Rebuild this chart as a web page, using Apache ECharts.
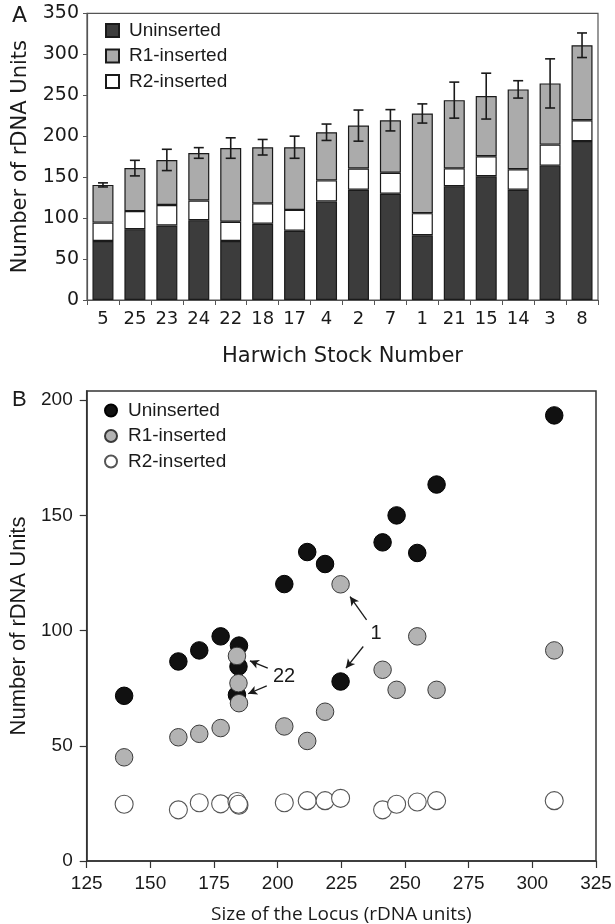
<!DOCTYPE html>
<html>
<head>
<meta charset="utf-8">
<script src="https://cdn.jsdelivr.net/npm/echarts@6/dist/echarts.min.js"></script>
<style>
html,body{margin:0;padding:0;background:#fff;}
#chart{width:615px;height:924px;}
</style>
</head>
<body>
<div id="chart"></div>
<script>
// ---------- Panel A data ----------
const stocks = ['5','25','23','24','22','18','17','4','2','7','1','21','15','14','3','8'];
const aUninserted = [72, 86.5, 91, 97.5, 72, 93, 84.5, 120.4, 134.6, 129.7, 79, 139, 151, 134.6, 164, 194];
const aR2 = [22.5, 22, 25, 24, 23.5, 25, 25.5, 25.6, 26, 25.7, 27, 21.7, 24.4, 25, 25.7, 25.5];
const aR1 = [46, 52.5, 55, 58, 90, 68.5, 76.5, 58.8, 52.3, 64, 121.7, 83.3, 73.5, 97.5, 74.7, 91.5];
const aErr = [2.5, 9.5, 13, 6.5, 12.5, 9.5, 13.5, 10, 19, 13, 11.7, 22, 28, 10.6, 30, 15];
const aYTicks = [0, 50, 100, 150, 200, 250, 300, 350];

// ---------- Panel B data ----------
const locusSize = [139.7, 161, 169.2, 177.6, 184, 184.8, 184.6, 202.6, 211.6, 218.6, 224.7, 241.2, 246.7, 254.8, 262.4, 308.6];
const bUninserted = [71.7, 86.6, 91.4, 97.5, 72.1, 93.5, 84.4, 120.2, 134.1, 128.9, 77.9, 138.3, 150, 133.7, 163.4, 193.4];
const bR1 = [45, 53.7, 55.2, 57.7, 89, 68.5, 77.2, 58.4, 52.1, 64.8, 120.1, 83, 74.3, 97.5, 74.3, 91.4];
const bR2 = [24.6, 22.2, 25.3, 24.8, 25.8, 24.2, 24.6, 25.3, 26.2, 26.2, 27.2, 22.2, 24.6, 25.6, 26.2, 26.2];
const bXTicks = [125, 150, 175, 200, 225, 250, 275, 300, 325];
const bYTicks = [0, 50, 100, 150, 200];
// annotation labels and arrows (data units)
const annoLabels = [{text: '22', x: 202.5, y: 80}, {text: '1', x: 238.6, y: 98.6}];
const annoArrows = [
  [[196.1, 83.7], [189.1, 86.9]],
  [[195.7, 76.0], [188.4, 72.6]],
  [[234.9, 104.7], [228.4, 114.8]],
  [[233.6, 93.1], [226.8, 83.7]]
];

const aTotals = stocks.map((s, i) => aUninserted[i] + aR2[i] + aR1[i]);
const errData = stocks.map((s, i) => [i, aTotals[i], aErr[i]]);

const chart = echarts.init(document.getElementById('chart'), null, {renderer: 'canvas'});
const fA = 'DejaVu Sans';
const fB = 'Liberation Sans';
const txt = '#1a1a1a';

const option = {
  animation: false,
  backgroundColor: '#fff',
  graphic: [
    {type: 'text', left: 12, top: 5, style: {text: 'A', font: '22px "DejaVu Sans"', fill: txt}},
    {type: 'text', left: 12, top: 389, style: {text: 'B', font: '22px "Liberation Sans"', fill: txt}}
  ],
  legend: [
    {
      data: ['Uninserted', 'R1-inserted', 'R2-inserted'],
      orient: 'vertical', left: 100, top: 15,
      itemWidth: 13, itemHeight: 13, itemGap: 4.5,
      icon: 'rect',
      textStyle: {fontFamily: fB, fontSize: 19, color: txt, lineHeight: 21, padding: [0, 0, 0, 5]},
      selectedMode: false
    },
    {
      data: ['Uninserted ', 'R1-inserted ', 'R2-inserted '],
      orient: 'vertical', left: 99, top: 395,
      itemWidth: 12, itemHeight: 12, itemGap: 4.5,
      icon: 'circle',
      textStyle: {fontFamily: fB, fontSize: 19, color: txt, lineHeight: 21, padding: [0, 0, 0, 6]},
      selectedMode: false
    }
  ],
  grid: [
    {left: 87, right: 17, top: 13.3, height: 286.7, show: true, borderColor: '#555', borderWidth: 1.2,
      backgroundColor: 'transparent', outerBoundsMode: 'none', containLabel: false},
    {left: 86.7, right: 19, top: 391, height: 470, show: true, borderColor: '#333', borderWidth: 1.5,
      backgroundColor: 'transparent', outerBoundsMode: 'none', containLabel: false}
  ],
  xAxis: [
    {
      gridIndex: 0, type: 'category', data: stocks,
      axisLine: {lineStyle: {color: '#555', width: 1.2}},
      axisTick: {show: true, length: 5, lineStyle: {color: '#555'}},
      axisLabel: {fontFamily: fA, fontSize: 18, color: txt, margin: 10, interval: 0},
      name: 'Harwich Stock Number', nameLocation: 'middle', nameGap: 46,
      nameTextStyle: {fontFamily: fA, fontSize: 21, color: txt}
    },
    {
      gridIndex: 1, type: 'value', min: 125, max: 325, interval: 25,
      axisLine: {onZero: false, lineStyle: {color: '#333', width: 1.5}},
      axisTick: {show: true, length: 7, lineStyle: {color: '#333', width: 1.2}},
      axisLabel: {fontFamily: fB, fontSize: 19, color: txt, margin: 13},
      splitLine: {show: false},
      name: 'Size of the Locus (rDNA units)', nameLocation: 'middle', nameGap: 44,
      nameTextStyle: {fontFamily: 'Open Sans', fontSize: 19, color: txt}
    }
  ],
  yAxis: [
    {
      gridIndex: 0, type: 'value', min: 0, max: 350, interval: 50,
      axisLine: {show: true, lineStyle: {color: '#555', width: 1.2}},
      axisTick: {show: true, length: 4, lineStyle: {color: '#555'}},
      axisLabel: {fontFamily: fA, fontSize: 19, color: txt, margin: 8,
        customValues: aYTicks},
      splitLine: {show: false},
      name: 'Number of rDNA Units', nameLocation: 'middle', nameGap: 56, nameRotate: 90,
      nameTextStyle: {fontFamily: fA, fontSize: 21, color: txt}
    },
    {
      gridIndex: 1, type: 'value', min: 0, max: 204,
      axisLine: {show: true, lineStyle: {color: '#333', width: 1.5}},
      axisTick: {show: true, length: 7, lineStyle: {color: '#333', width: 1.2}, customValues: bYTicks},
      axisLabel: {fontFamily: fB, fontSize: 19, color: txt, margin: 14, customValues: bYTicks},
      splitLine: {show: false},
      name: 'Number of rDNA Units', nameLocation: 'middle', nameGap: 52, nameRotate: 90,
      nameTextStyle: {fontFamily: fB, fontSize: 22, color: txt}
    }
  ],
  series: [
    {
      name: 'Uninserted', type: 'bar', stack: 'a', xAxisIndex: 0, yAxisIndex: 0,
      data: aUninserted, barWidth: 21,
      itemStyle: {color: '#3c3c3c', borderColor: '#1a1a1a', borderWidth: 1.2}
    },
    {
      name: 'R2-inserted', type: 'bar', stack: 'a', xAxisIndex: 0, yAxisIndex: 0,
      data: aR2, barWidth: 21,
      itemStyle: {color: '#ffffff', borderColor: '#1a1a1a', borderWidth: 1.2}
    },
    {
      name: 'R1-inserted', type: 'bar', stack: 'a', xAxisIndex: 0, yAxisIndex: 0,
      data: aR1, barWidth: 21,
      itemStyle: {color: '#ababab', borderColor: '#1a1a1a', borderWidth: 1.2}
    },
    {
      name: 'err', type: 'custom', xAxisIndex: 0, yAxisIndex: 0, data: errData, z: 10,
      renderItem: function (params, api) {
        const xi = api.value(0), v = api.value(1), e = api.value(2);
        const hi = api.coord([xi, v + e]);
        const lo = api.coord([xi, v - e]);
        const cap = 5;
        const st = {stroke: '#1a1a1a', lineWidth: 1.6};
        return {type: 'group', children: [
          {type: 'line', shape: {x1: hi[0], y1: hi[1], x2: lo[0], y2: lo[1]}, style: st},
          {type: 'line', shape: {x1: hi[0] - cap, y1: hi[1], x2: hi[0] + cap, y2: hi[1]}, style: st},
          {type: 'line', shape: {x1: lo[0] - cap, y1: lo[1], x2: lo[0] + cap, y2: lo[1]}, style: st}
        ]};
      }
    },
    {
      name: 'Uninserted ', type: 'scatter', xAxisIndex: 1, yAxisIndex: 1,
      data: locusSize.map((x, i) => [x, bUninserted[i]]),
      symbolSize: 17.5,
      itemStyle: {color: '#111111', borderColor: '#000', borderWidth: 1, opacity: 1},
      z: 3,
      markLine: {
        silent: true, symbol: ['none', 'arrow'], symbolSize: [7, 9],
        lineStyle: {color: '#1a1a1a', width: 1.3, type: 'solid'},
        label: {show: false},
        data: annoArrows.map(a => [{coord: a[0]}, {coord: a[1]}])
      },
      markPoint: {
        silent: true, symbol: 'rect', symbolSize: 1,
        itemStyle: {color: 'rgba(0,0,0,0)'},
        label: {show: true, position: 'inside', fontFamily: fB, fontSize: 20, color: txt,
          formatter: p => p.name},
        data: annoLabels.map(a => ({name: a.text, coord: [a.x, a.y]}))
      }
    },
    {
      name: 'R1-inserted ', type: 'scatter', xAxisIndex: 1, yAxisIndex: 1,
      data: locusSize.map((x, i) => [x, bR1[i]]),
      symbolSize: 17.5,
      itemStyle: {color: '#b3b3b3', borderColor: '#3a3a3a', borderWidth: 1, opacity: 1},
      z: 4
    },
    {
      name: 'R2-inserted ', type: 'scatter', xAxisIndex: 1, yAxisIndex: 1,
      data: locusSize.map((x, i) => [x, bR2[i]]),
      symbolSize: 18,
      itemStyle: {color: '#ffffff', borderColor: '#555', borderWidth: 1.1, opacity: 1},
      z: 5
    }
  ]
};
chart.setOption(option);
</script>
</body>
</html>
